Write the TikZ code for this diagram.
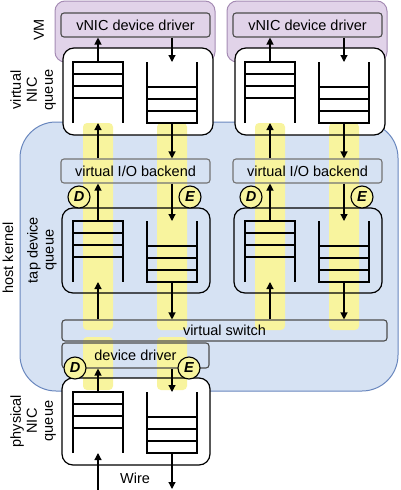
\documentclass[tikz,border=0pt]{standalone}
\usepackage{fontspec}
\setmainfont{Liberation Sans}
\usetikzlibrary{arrows.meta}
\definecolor{vmfill}{RGB}{225,211,233}
\definecolor{vmline}{RGB}{165,140,180}
\definecolor{hostfill}{RGB}{214,226,243}
\definecolor{hostline}{RGB}{105,135,190}
\definecolor{band}{RGB}{248,244,158}
\tikzset{
  stk/.style={line width=1.2pt},
  flow/.style={line width=1.2pt, -{Triangle[length=7pt,width=7pt]}},
  layer/.style={draw=black!70, line width=1.1pt, rounded corners=3pt, inner sep=0pt, minimum height=24pt},
  qbox/.style={draw=black, line width=1.2pt, rounded corners=11pt},
  tag/.style={circle, draw=black, line width=1.1pt, fill=band, minimum size=22pt, inner sep=0pt, font=\fontsize{14.5}{16}\selectfont\bfseries\itshape},
  side/.style={rotate=90, align=center, font=\fontsize{14.5}{16}\selectfont},
  lane/.style={fill=band, rounded corners=4pt}
}
\newcommand{\upq}[3]{%
  \draw[stk] (#1,#2+61) -- (#1,#2) -- (#1+50,#2) -- (#1+50,#2+61);
  \foreach \k in {12,24,36} \draw[stk] (#1,#2+\k) -- ++(50,0);
  \coordinate (#3t) at (#1+25,#2);
  \coordinate (#3b) at (#1+25,#2+61);}
\newcommand{\dnq}[3]{%
  \draw[stk] (#1,#2) -- (#1,#2+61) -- (#1+50,#2+61) -- (#1+50,#2);
  \foreach \k in {25,37,49} \draw[stk] (#1,#2+\k) -- ++(50,0);
  \coordinate (#3t) at (#1+25,#2);
  \coordinate (#3b) at (#1+25,#2+61);}
\begin{document}
\begin{tikzpicture}[x=1pt,y=-1pt,font=\fontsize{14.5}{16}\selectfont]
\useasboundingbox (0,0) rectangle (400,490);

        \filldraw[fill=hostfill, draw=hostline, line width=1pt, rounded corners=36pt] (20,122) rectangle (398,391);
        \foreach \dx in {0,172} {
                \filldraw[fill=vmfill, draw=vmline, line width=1pt, rounded corners=10pt] (55+\dx,1) rectangle (215+\dx,62);
                \fill[white, rounded corners=11pt] (63+\dx,48) rectangle (213+\dx,135);
                \fill[lane] (83+\dx,123) rectangle (113+\dx,330);
                \fill[lane] (157+\dx,123) rectangle (187+\dx,330);
        }
        \fill[white, rounded corners=11pt] (62,378) rectangle (210,465);
        \fill[lane] (83,337) rectangle (113,390);
        \fill[lane] (157,337) rectangle (187,390);

        \node[layer, minimum width=325pt, minimum height=21pt] (sw) at (224.5,330.5) {virtual switch};

        \foreach \dx/\n in {0/a,172/b} {
        \begin{scope}[shift={(\dx,0)}]
                \draw[qbox] (63,48) rectangle (213,135);
                \draw[qbox] (62,208) rectangle (210,293);
                \node[layer, minimum width=149pt] (drv\n) at (135.5,25) {vNIC device driver};
                \node[layer, minimum width=149pt, draw=black!55] (be\n) at (135.5,171) {virtual I/O backend};
                \node[tag] (d\n) at (79,197) {D};
                \node[tag] (e\n) at (190,197) {E};
                \upq{73}{62}{vu\n}
                \dnq{147}{62}{vd\n}
                \upq{73}{221}{tu\n}
                \dnq{147}{221}{td\n}
                \draw[flow] (vu\n t) -- (vu\n t |- drv\n.south);
                \draw[flow] (drv\n.south -| vd\n t) -- (vd\n t);
                \draw[flow] (be\n.north -| vu\n b) -- (vu\n b);
                \draw[flow] (vd\n b) -- (vd\n b |- be\n.north);
                \draw[flow] (tu\n t) -- (tu\n t |- be\n.south);
                \draw[flow] (be\n.south -| td\n t) -- (td\n t);
                \draw[flow] (sw.north -| tu\n b) -- (tu\n b);
                \draw[flow] (td\n b) -- (td\n b |- sw.north);
        \end{scope}}

        \draw[qbox] (62,378) rectangle (210,465);
        \node[layer, minimum width=147pt, minimum height=25pt] (dd) at (135.5,355.5) {device driver};
        \node[tag] (dp) at (75,368) {D};
        \node[tag] (ep) at (189,368) {E};
        \upq{73}{392}{pu}
        \dnq{147}{392}{pd}
        \coordinate (win) at (98,490);
        \coordinate (wout) at (172,489);
        \draw[flow] (put) -- (put |- dd.south);
        \draw[flow] (dd.south -| pdt) -- (pdt);
        \draw[flow] (win) -- (pub);
        \draw[flow] (pdb) -- (wout);
        \node (wire) at (135,478) {Wire};

        \node[side] (vmlbl) at (39,30) {VM};
        \node[side] (vnicq) at (33,90) {virtual\\NIC\\queue};
        \node[side] (host) at (8,258) {host kernel};
        \node[side] (tapq) at (42,250) {tap device\\queue};
        \node[side] (physq) at (33,421) {physical\\NIC\\queue};
\end{tikzpicture}
\end{document}
